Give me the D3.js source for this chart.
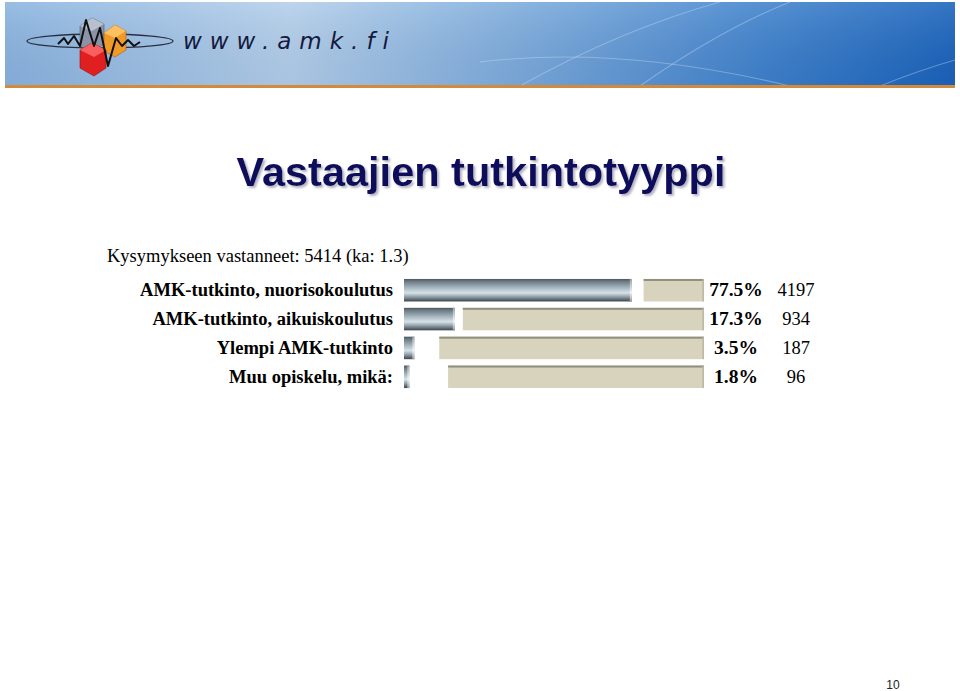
<!DOCTYPE html>
<html><head><meta charset="utf-8">
<script src="https://cdn.jsdelivr.net/npm/d3@7"></script>
<style>html,body{margin:0;padding:0;background:#fff;}svg{display:block;}</style>
</head><body>
<script>
const categories = ["AMK-tutkinto, nuorisokoulutus","AMK-tutkinto, aikuiskoulutus","Ylempi AMK-tutkinto","Muu opiskelu, mikä:"];
const percents = [77.5, 17.3, 3.5, 1.8];
const counts = [4197, 934, 187, 96];
const restValues = [20.5, 82, 90, 87];
const percentLabels = ["77.5%","17.3%","3.5%","1.8%"];
const title = "Vastaajien tutkintotyyppi";
const subtitle = "Kysymykseen vastanneet: 5414 (ka: 1.3)";
const pageNumber = "10";

const W = 960, H = 691;
const svg = d3.select("body").append("svg").attr("width", W).attr("height", H);
const defs = svg.append("defs");

// banner gradient
const bg = defs.append("linearGradient").attr("id","banner").attr("x1","0").attr("x2","1").attr("y1","0").attr("y2","0");
bg.append("stop").attr("offset","0").attr("stop-color","#8ab4df");
bg.append("stop").attr("offset","0.3").attr("stop-color","#b3cfea");
bg.append("stop").attr("offset","0.55").attr("stop-color","#7aaadb");
bg.append("stop").attr("offset","0.8").attr("stop-color","#3f82cc");
bg.append("stop").attr("offset","1").attr("stop-color","#1a63bb");
const bgv = defs.append("linearGradient").attr("id","bannerV").attr("x1","0").attr("x2","0").attr("y1","0").attr("y2","1");
bgv.append("stop").attr("offset","0").attr("stop-color","#ffffff").attr("stop-opacity",0.12);
bgv.append("stop").attr("offset","1").attr("stop-color","#000030").attr("stop-opacity",0.05);

const shadow = defs.append("filter").attr("id","tshadow").attr("x","-5%").attr("y","-20%").attr("width","110%").attr("height","140%");
shadow.append("feDropShadow").attr("dx",2).attr("dy",2).attr("stdDeviation",0.8).attr("flood-color","#9090a8").attr("flood-opacity",0.7);

svg.append("rect").attr("x",5).attr("y",2).attr("width",950).attr("height",84).attr("fill","url(#banner)");
svg.append("rect").attr("x",5).attr("y",2).attr("width",950).attr("height",84).attr("fill","url(#bannerV)");
// decorative arcs
const arcs = svg.append("g").attr("fill","none").attr("stroke","#d8e8f8").attr("stroke-opacity",0.35).attr("stroke-width",1.1);
arcs.append("path").attr("d","M480,62 Q620,45 790,86");
arcs.append("path").attr("d","M520,86 Q620,30 720,2");
arcs.append("path").attr("d","M640,86 Q720,30 790,2");
arcs.append("path").attr("d","M880,86 Q920,70 955,60");
svg.append("rect").attr("x",5).attr("y",85).attr("width",950).attr("height",3).attr("fill","#d48a3c");

// logo
const logo = svg.append("g");
logo.append("ellipse").attr("cx",100).attr("cy",41).attr("rx",73).attr("ry",7).attr("fill","none").attr("stroke","#2a3040").attr("stroke-width",1.3);
logo.append("path").attr("d","M80,26 L92,18 L104,24 L104,44 L92,52 L80,46 Z").attr("fill","#8a93a8").attr("stroke","#555d70").attr("stroke-width",0.6);
logo.append("path").attr("d","M80,26 L92,18 L104,24 L92,31 Z").attr("fill","#b8c0d0");
logo.append("path").attr("d","M104,33 L115,25 L126,31 L126,50 L115,57 L104,51 Z").attr("fill","#f09a28").attr("stroke","#b06010").attr("stroke-width",0.6);
logo.append("path").attr("d","M104,33 L115,25 L126,31 L115,38 Z").attr("fill","#fbc060");
logo.append("path").attr("d","M80,50 L92,43 L106,50 L106,68 L94,76 L80,68 Z").attr("fill","#e02020").attr("stroke","#901010").attr("stroke-width",0.6);
logo.append("path").attr("d","M80,50 L92,43 L106,50 L94,57 Z").attr("fill","#f86060");
logo.append("path").attr("d","M58,44 L64,38 L68,44 L74,36 L80,46 L86,20 L94,46 L100,28 L108,66 L116,38 L122,46 L128,40 L134,46 L140,42").attr("fill","none").attr("stroke","#101010").attr("stroke-width",2).attr("stroke-linejoin","round");
svg.append("text").attr("x",183).attr("y",49).attr("font-family","DejaVu Sans, sans-serif").attr("font-style","italic").attr("font-size",23).attr("fill","#141a40").attr("letter-spacing","8px").text("www.amk.fi");

// title with shadow
svg.append("text").attr("x",481).attr("y",186).attr("text-anchor","middle").attr("font-family","Liberation Sans, Arial, sans-serif").attr("font-weight","bold").attr("font-size",41.5).attr("fill","#0c0c5c").attr("filter","url(#tshadow)").text(title);

svg.append("text").attr("x",107).attr("y",262).attr("font-family","Liberation Serif, Times New Roman, serif").attr("font-size",18.5).attr("fill","#000").text(subtitle);

// scales
const x = d3.scaleLinear().domain([0,100]).range([404,698]);
const y = d3.scaleBand().domain(categories).range([275.5,391.5]).paddingInner(0.22).paddingOuter(0.12);

// bar gradient
const dg = defs.append("linearGradient").attr("id","dark").attr("x1","0").attr("x2","0").attr("y1","0").attr("y2","1");
[[0,"#4c5862"],[0.12,"#6e7c86"],[0.4,"#a9b8c2"],[0.62,"#d6e2e8"],[0.8,"#8e9ca6"],[1,"#3a444c"]].forEach(([o,c])=>dg.append("stop").attr("offset",o).attr("stop-color",c));
const eg = defs.append("linearGradient").attr("id","endcap").attr("x1","0").attr("x2","0").attr("y1","0").attr("y2","1");
[[0,"#a0a8ae"],[0.6,"#f2f4f5"],[1,"#9aa2a8"]].forEach(([o,c])=>eg.append("stop").attr("offset",o).attr("stop-color",c));

const rows = svg.append("g").selectAll("g").data(categories).join("g");

// beige remainder bars, right-aligned
rows.append("rect")
  .attr("x",(d,i)=>x(102) - (x(restValues[i]) - x(0)))
  .attr("y",d=>y(d))
  .attr("width",(d,i)=>x(restValues[i]) - x(0))
  .attr("height",y.bandwidth())
  .attr("fill","#d7d3bd");
rows.append("rect")
  .attr("x",(d,i)=>x(102) - (x(restValues[i]) - x(0)))
  .attr("y",d=>y(d))
  .attr("width",(d,i)=>x(restValues[i]) - x(0))
  .attr("height",2)
  .attr("fill","#8f907e");
rows.append("rect")
  .attr("x",(d,i)=>x(102) - 1.5)
  .attr("y",d=>y(d))
  .attr("width",1.5)
  .attr("height",y.bandwidth())
  .attr("fill","#b9b6a2");

// value bars
rows.append("rect")
  .attr("x",x(0))
  .attr("y",d=>y(d))
  .attr("width",(d,i)=>x(percents[i]) - x(0))
  .attr("height",y.bandwidth())
  .attr("fill","url(#dark)");
rows.append("rect")
  .attr("x",(d,i)=>x(percents[i]) - 2)
  .attr("y",d=>y(d))
  .attr("width",2)
  .attr("height",y.bandwidth())
  .attr("fill","url(#endcap)");

// labels
const fs = 18.5;
rows.append("text")
  .attr("x",393).attr("y",d=>y(d)+y.bandwidth()/2+6)
  .attr("text-anchor","end")
  .attr("font-family","Liberation Serif, Times New Roman, serif").attr("font-weight","bold").attr("font-size",fs)
  .text(d=>d);
rows.append("text")
  .attr("x",736).attr("y",d=>y(d)+y.bandwidth()/2+6)
  .attr("text-anchor","middle")
  .attr("font-family","Liberation Serif, Times New Roman, serif").attr("font-weight","bold").attr("font-size",19.5)
  .text((d,i)=>percentLabels[i]);
rows.append("text")
  .attr("x",796).attr("y",d=>y(d)+y.bandwidth()/2+6)
  .attr("text-anchor","middle")
  .attr("font-family","Liberation Serif, Times New Roman, serif").attr("font-size",fs)
  .text((d,i)=>counts[i]);

svg.append("text").attr("x",893).attr("y",689).attr("text-anchor","middle").attr("font-family","Liberation Sans, Arial, sans-serif").attr("font-size",12).attr("fill","#222").text(pageNumber);
</script>
</body></html>
